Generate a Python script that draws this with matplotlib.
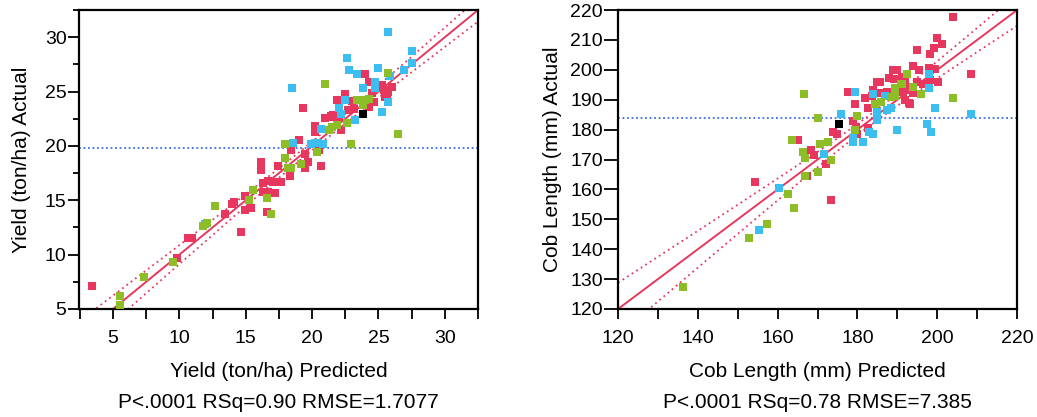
import numpy as np
import matplotlib.pyplot as plt
from matplotlib.ticker import MultipleLocator

plt.rcParams['font.family'] = ['Liberation Sans', 'DejaVu Sans']

# ---- Yield: (predicted, actual) ----
yield_red = [(3.4, 7.1), (9.85, 9.7), (10.65, 11.5), (10.95, 11.5), (13.45, 13.7), (13.95, 14.65),
             (14.1, 14.8), (14.65, 12.05), (14.95, 15.35), (14.95, 14.1), (15.4, 14.25), (16.15, 18.5),
             (16.15, 17.8), (16.3, 16.6), (16.7, 16.8), (17.05, 16.7), (16.3, 15.8), (16.7, 15.8),
             (17.2, 15.7), (16.6, 13.95), (17.4, 18.15), (17.65, 16.7), (18.3, 17.25), (18.4, 19.65),
             (19.0, 20.55), (19.3, 23.45), (19.5, 17.95), (19.7, 18.55), (19.5, 19.3), (20.55, 19.6),
             (20.65, 18.15), (20.25, 21.8), (20.25, 21.3), (21.0, 22.55), (21.4, 22.75), (21.55, 22.85),
             (21.4, 22.7), (21.9, 24.25), (22.15, 21.45), (22.45, 24.8), (22.0, 22.7), (22.7, 23.3),
             (23.15, 23.4), (23.0, 24.1), (23.8, 23.75), (24.25, 23.6), (24.65, 24.05), (23.95, 26.6),
             (24.25, 25.9), (24.65, 25.9), (25.25, 25.6), (26.05, 25.45), (25.75, 25.0), (25.5, 24.5),
             (25.65, 24.7), (24.9, 25.4), (25.4, 25.15), (24.5, 24.9)]
yield_cyan = [(11.9, 12.8), (18.5, 25.3), (18.55, 20.3), (19.9, 20.2), (20.25, 20.3), (20.45, 20.25),
              (20.8, 20.2), (20.65, 21.6), (22.0, 23.45), (22.15, 22.95), (22.45, 24.25), (22.65, 28.05),
              (22.75, 26.95), (23.4, 26.6), (23.2, 22.4), (23.8, 25.3), (24.7, 25.9), (24.7, 25.3),
              (25.0, 27.15), (25.25, 23.1), (25.75, 30.45), (25.9, 26.4), (25.75, 24.0), (26.95, 26.95),
              (27.55, 28.75), (27.55, 27.65)]
yield_green = [(5.5, 6.2), (5.5, 5.35), (7.3, 7.9), (9.55, 9.3), (11.8, 12.6), (12.1, 12.95), (12.7, 14.5),
               (15.25, 15.0), (15.55, 15.9), (16.6, 15.2), (16.9, 13.7), (17.95, 20.15), (17.95, 18.85),
               (18.15, 17.95), (18.4, 17.95), (19.15, 18.3), (20.35, 19.4), (20.95, 25.65), (21.25, 21.5),
               (21.5, 21.75), (21.85, 21.9), (22.6, 22.15), (22.9, 20.15), (23.35, 24.25), (23.65, 24.2),
               (23.95, 24.25), (24.25, 24.35), (23.8, 23.8), (25.75, 26.75), (26.5, 21.05)]
yield_black = [(23.8, 22.9)]
yield_mean = 19.85
yield_rmse = 1.7077

# ---- Cob length: (predicted, actual) ----
cob_red = [(154.2, 162.5), (165.2, 176.4), (167.3, 164.5), (168.3, 173.3), (169.0, 171.5), (172.2, 168.5),
           (173.3, 156.5), (173.9, 179.2), (174.8, 178.4), (177.7, 192.5), (178.8, 183.0), (179.4, 188.4),
           (179.6, 181.0), (179.8, 178.4), (181.9, 190.5), (182.7, 187.1), (182.7, 180.4), (183.7, 191.2),
           (183.8, 193.2), (184.8, 195.8), (185.7, 192.1), (187.3, 192.6), (187.8, 197.1), (189.2, 197.0),
           (189.8, 199.9), (191.1, 197.7), (191.9, 196.0), (191.9, 189.9), (193.2, 188.4), (192.8, 193.2),
           (194.0, 192.4), (193.9, 201.3), (195.5, 199.9), (196.3, 195.3), (194.9, 206.5), (198.2, 205.3),
           (199.2, 207.3), (199.9, 210.5), (201.2, 208.5), (197.8, 200.5), (199.4, 200.3), (200.3, 195.8),
           (203.9, 217.8), (208.4, 198.5), (198.2, 196.6), (189.4, 191.6), (192.8, 188.8), (191.5, 192.7),
           (194.9, 196.0), (185.7, 196.0), (189.0, 199.9)]
cob_cyan = [(155.2, 146.4), (160.4, 160.6), (171.7, 171.8), (175.9, 185.1), (179.4, 192.5), (178.8, 177.2),
            (178.8, 175.8), (181.3, 176.0), (182.8, 179.2), (183.9, 178.4), (183.8, 191.8), (184.8, 186.0),
            (184.8, 183.2), (186.9, 191.1), (187.3, 186.6), (188.4, 187.1), (189.8, 179.9), (190.8, 195.2),
            (197.8, 198.6), (197.8, 193.8), (197.4, 181.8), (198.4, 179.1), (199.5, 187.1), (208.4, 185.1)]
cob_green = [(136.4, 127.2), (152.7, 143.7), (157.3, 148.4), (162.7, 158.4), (164.2, 153.7), (163.6, 176.4),
             (166.3, 172.5), (166.9, 170.6), (166.9, 164.5), (166.7, 191.8), (170.2, 183.8), (170.2, 165.8),
             (170.6, 175.3), (172.7, 175.8), (173.3, 169.8), (179.4, 179.9), (179.8, 184.4), (184.4, 188.5),
             (186.0, 189.1), (189.3, 193.8), (189.3, 191.3), (188.3, 191.0), (191.1, 195.3), (192.4, 198.5),
             (193.8, 194.4), (195.9, 191.8), (203.9, 190.5)]
cob_black = [(175.3, 181.8)]
cob_mean = 184.0
cob_rmse = 7.385

RED = '#E8375E'
CYAN = '#3CBEF0'
GREEN = '#8DBE28'
BLUE = '#3A6FE0'


def actual_by_predicted(ax, groups, mean_y, rmse, xlim, ylim, xmaj, xmin, ymaj, ymin, ylen):
    allx = np.concatenate([np.array(g)[:, 0] for g, _ in groups])
    n = len(allx)
    xm = allx.mean()
    sxx = ((allx - xm) ** 2).sum()
    xs = np.linspace(xlim[0], xlim[1], 300)
    # Working-Hotelling style confidence curves around the fit (slope 1)
    hw = 2.48 * rmse * np.sqrt(1.0 / n + (xs - xm) ** 2 / sxx)

    ax.axhline(mean_y, color=BLUE, lw=1.3, ls=(0, (1, 1.5)), zorder=1)
    ax.plot(xs, xs, color=RED, lw=1.4, zorder=2)
    ax.plot(xs, xs + hw, color=RED, lw=1.3, ls=(0, (1, 2)), zorder=2)
    ax.plot(xs, xs - hw, color=RED, lw=1.3, ls=(0, (1, 2)), zorder=2)

    for pts, col in groups:
        p = np.array(pts)
        ax.plot(p[:, 0], p[:, 1], 's', color=col, ms=6, mew=0, zorder=3)

    ax.set_xlim(xlim)
    ax.set_ylim(ylim)
    ax.xaxis.set_major_locator(MultipleLocator(xmaj))
    ax.xaxis.set_minor_locator(MultipleLocator(xmin))
    ax.yaxis.set_major_locator(MultipleLocator(ymaj))
    ax.yaxis.set_minor_locator(MultipleLocator(ymin))
    ax.tick_params(which='both', direction='out', width=1.3, labelsize=14)
    ax.tick_params(axis='x', which='both', length=7, pad=8)
    ax.tick_params(axis='y', which='major', length=ylen, pad=1)
    ax.tick_params(axis='y', which='minor', length=4.5)
    for s in ax.spines.values():
        s.set_linewidth(1.6)


fig = plt.figure(figsize=(10.37, 4.17), dpi=100)
ax1 = fig.add_axes([0.0762, 0.259, 0.3848, 0.717])
ax2 = fig.add_axes([0.596, 0.259, 0.3848, 0.717])

actual_by_predicted(ax1, [(yield_red, RED), (yield_cyan, CYAN), (yield_green, GREEN), (yield_black, 'black')],
                    yield_mean, yield_rmse, (2.44, 32.5), (5, 32.5), 5, 2.5, 5, 2.5, 8)
actual_by_predicted(ax2, [(cob_red, RED), (cob_cyan, CYAN), (cob_green, GREEN), (cob_black, 'black')],
                    cob_mean, cob_rmse, (120, 220), (120, 220), 20, 10, 10, 10, 10)

fs = 15
fig.text(0.2686, 0.108, 'Yield (ton/ha) Predicted', ha='center', va='center', fontsize=fs)
fig.text(0.2686, 0.034, 'P<.0001 RSq=0.90 RMSE=1.7077', ha='center', va='center', fontsize=fs)
fig.text(0.7884, 0.108, 'Cob Length (mm) Predicted', ha='center', va='center', fontsize=fs)
fig.text(0.7884, 0.034, 'P<.0001 RSq=0.78 RMSE=7.385', ha='center', va='center', fontsize=fs)
fig.text(22 / 1037, 0.617, 'Yield (ton/ha) Actual', ha='center', va='center', rotation=90, fontsize=fs)
fig.text(553 / 1037, 0.617, 'Cob Length (mm) Actual', ha='center', va='center', rotation=90, fontsize=fs)

fig.savefig('out.png', dpi=100)
